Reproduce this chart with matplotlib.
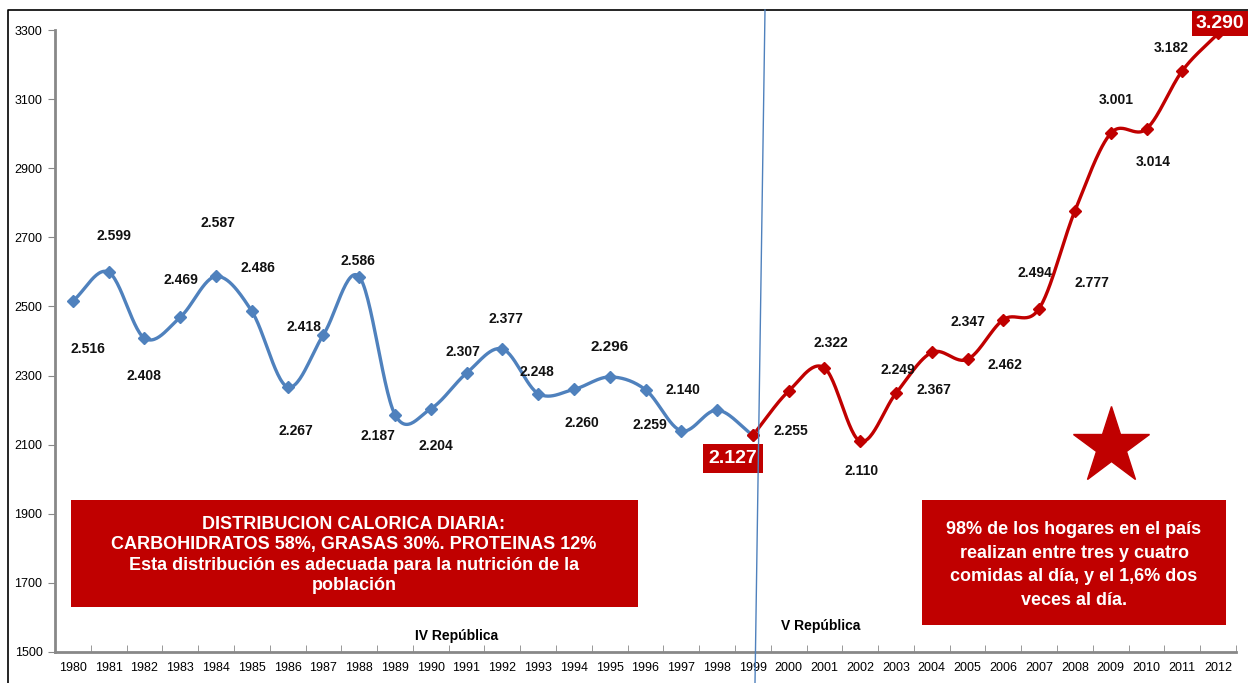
#!/usr/bin/python3
# Consumo calorico diario 1980-2012 (IV y V Republica)

import numpy as np
import matplotlib
matplotlib.use("Agg")
import matplotlib.pyplot as plt
from matplotlib.lines import Line2D
from matplotlib.patches import Rectangle

plt.rcParams['font.family'] = ['Liberation Sans', 'DejaVu Sans']

# Data
years = [str(y) for y in range(1980, 2013)]
kcal_iv = [2516, 2599, 2408, 2469, 2587, 2486, 2267, 2418, 2586, 2187,
           2204, 2307, 2377, 2248, 2260, 2296, 2259, 2140, 2200, 2127]
kcal_v = [2127, 2255, 2322, 2110, 2249, 2367, 2347, 2462, 2494, 2777,
          3001, 3014, 3182, 3290]
labels_iv = ["2.516", "2.599", "2.408", "2.469", "2.587", "2.486", "2.267", "2.418",
             "2.586", "2.187", "2.204", "2.307", "2.377", "2.248", "2.260", "2.296",
             "2.259", "2.140", "", ""]
labels_v = ["", "2.255", "2.322", "2.110", "2.249", "2.367", "2.347", "2.462",
            "2.494", "2.777", "3.001", "3.014", "3.182", ""]
yticks = list(range(1500, 3301, 200))

# label offsets in pixels (dx, dy)
off_iv = [(15, -48), (5, 36), (-1, -38), (1, 37), (2, 53), (6, 43), (8, -44), (-19, 8),
          (-1, 16), (-17, -21), (5, -37), (-4, 21), (4, 30), (-1, 22), (8, -34), (0, 30),
          (4, -35), (2, 41), (0, 0), (0, 0)]
off_v = [(0, 0), (2, -40), (6, 25), (1, -30), (2, 23), (2, -38), (0, 37), (1, -45),
         (-4, 36), (17, -72), (5, 33), (7, -33), (-11, 23), (0, 0)]

RED = "#C00000"
BLUE = "#4F81BD"


def smooth(x, y, n=30):
    """Catmull-Rom curve through the points (Excel style smoothing)."""
    x = np.asarray(x, float)
    y = np.asarray(y, float)
    px = np.concatenate([[2 * x[0] - x[1]], x, [2 * x[-1] - x[-2]]])
    py = np.concatenate([[2 * y[0] - y[1]], y, [2 * y[-1] - y[-2]]])
    xs, ys = [], []
    t = np.linspace(0, 1, n)
    for i in range(1, len(px) - 2):
        for p, out in ((px, xs), (py, ys)):
            p0, p1, p2, p3 = p[i - 1], p[i], p[i + 1], p[i + 2]
            out.extend(0.5 * ((2 * p1) + (-p0 + p2) * t +
                              (2 * p0 - 5 * p1 + 4 * p2 - p3) * t ** 2 +
                              (-p0 + 3 * p1 - 3 * p2 + p3) * t ** 3))
    return np.array(xs), np.array(ys)


fig = plt.figure(figsize=(12.48, 6.83), dpi=100)
ax = fig.add_axes([55 / 1248, 1 - 652 / 683, 1181 / 1248, 622 / 683])

x_iv = np.arange(len(kcal_iv))
x_v = np.arange(len(kcal_iv) - 1, len(years))

sx, sy = smooth(x_iv, kcal_iv)
ax.plot(sx, sy, color=BLUE, lw=2.4, zorder=3)
ax.plot(x_iv, kcal_iv, ls="none", marker="D", ms=6.5, color=BLUE, zorder=4)
sx, sy = smooth(x_v, kcal_v)
ax.plot(sx, sy, color=RED, lw=2.4, zorder=3, clip_on=False)
ax.plot(x_v, kcal_v, ls="none", marker="D", ms=6.5, color=RED, zorder=4, clip_on=False)

for xi, v, lab, (dx, dy) in zip(x_iv, kcal_iv, labels_iv, off_iv):
    if lab:
        ax.annotate(lab, (xi, v), xytext=(dx, dy), textcoords="offset pixels",
                    ha="center", va="center", fontsize=11 if lab == "2.296" else 10,
                    fontweight="bold", color="#111111", zorder=5)
for xi, v, lab, (dx, dy) in zip(x_v, kcal_v, labels_v, off_v):
    if lab:
        ax.annotate(lab, (xi, v), xytext=(dx, dy), textcoords="offset pixels",
                    ha="center", va="center", fontsize=10,
                    fontweight="bold", color="#111111", zorder=5)

# highlighted values
ax.annotate("2.127", (x_iv[-1], kcal_iv[-1]), xytext=(-20, -23), textcoords="offset pixels",
            ha="center", va="center", fontsize=14, fontweight="bold", color="white",
            bbox=dict(boxstyle="square,pad=0.3", fc=RED, ec="none"), zorder=6)
ax.annotate("3.290", (x_v[-1], kcal_v[-1]), xytext=(2, 10), textcoords="offset pixels",
            ha="center", va="center", fontsize=14, fontweight="bold", color="white",
            bbox=dict(boxstyle="square,pad=0.22", fc=RED, ec="none"), zorder=6,
            annotation_clip=False)

ax.set_xlim(-0.5, len(years) - 0.5)
ax.set_ylim(1500, 3300)
ax.set_yticks(yticks)
ax.set_yticklabels([str(v) for v in yticks], fontsize=9)
ax.set_xticks(np.arange(len(years)))
ax.set_xticklabels(years, fontsize=9)
ax.set_xticks(np.arange(len(years) + 1) - 0.5, minor=True)
ax.tick_params(axis="x", which="major", length=0, pad=7)
ax.tick_params(axis="x", which="minor", length=5, color="#888888", direction="in")
ax.tick_params(axis="y", length=5, color="#888888", pad=4)
for s in ("top", "right"):
    ax.spines[s].set_visible(False)
for s in ("left", "bottom"):
    ax.spines[s].set_color("#888888")
    ax.spines[s].set_linewidth(2)

# period labels
ax.text(0.34, 0.025, "IV República", transform=ax.transAxes, fontsize=10,
        fontweight="bold", ha="center", va="center")
ax.text(0.648, 0.042, "V República", transform=ax.transAxes, fontsize=10,
        fontweight="bold", ha="center", va="center")

# text boxes
fig.patches.append(Rectangle((71 / 1248, 1 - 607 / 683), 567 / 1248, 107 / 683,
                             transform=fig.transFigure, fc=RED, ec="none"))
fig.text(354 / 1248, 1 - 555 / 683,
         "DISTRIBUCION CALORICA DIARIA:\nCARBOHIDRATOS 58%, GRASAS 30%. PROTEINAS 12%\n"
         "Esta distribución es adecuada para la nutrición de la\npoblación",
         ha="center", va="center", color="white", fontsize=13, fontweight="bold",
         linespacing=1.25)
fig.patches.append(Rectangle((922 / 1248, 1 - 625 / 683), 304 / 1248, 125 / 683,
                             transform=fig.transFigure, fc=RED, ec="none"))
fig.text(1074 / 1248, 1 - 565 / 683,
         "98% de los hogares en el país\nrealizan entre tres y cuatro\n"
         "comidas al día, y el 1,6% dos\nveces al día.",
         ha="center", va="center", color="white", fontsize=13, fontweight="bold",
         linespacing=1.5)

# star
fig.add_artist(Line2D([1111 / 1248], [1 - 446 / 683], marker="*", ms=58, color=RED,
                      mec=RED, transform=fig.transFigure))

# dividing line between periods
fig.add_artist(Line2D([765 / 1248, 755 / 1248], [1 - 10 / 683, 0.0], color=BLUE, lw=1.0,
                      transform=fig.transFigure, zorder=7))

# frame
fig.add_artist(Line2D([8 / 1248, 8 / 1248, 1.0], [0.0, 1 - 10 / 683, 1 - 10 / 683],
                      color="black", lw=1.2, transform=fig.transFigure))

plt.savefig("out.png", dpi=100)
